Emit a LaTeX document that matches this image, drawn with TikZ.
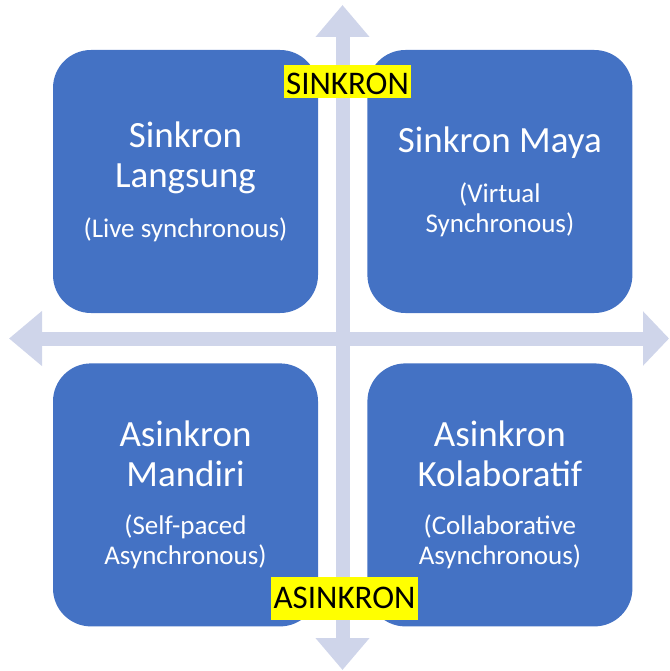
\documentclass[tikz,border=0pt]{standalone}
\usepackage{fontspec}
\setmainfont{Carlito}
\usetikzlibrary{arrows.meta, positioning}
\definecolor{quadblue}{HTML}{4472C4}
\definecolor{axisgray}{HTML}{CFD5EA}
\definecolor{tagyellow}{HTML}{FFFF00}
\newcommand{\subtxt}{\fontsize{27}{30}\selectfont}

\begin{document}
\begin{tikzpicture}[
    x=1pt, y=-1pt,
    quad/.style={rectangle, rounded corners=38pt, fill=quadblue, text=white,
                 minimum width=265pt, minimum height=263pt, text width=250pt,
                 align=flush center, font=\fontsize{37}{40}\selectfont, inner sep=0pt},
    axis/.style={line width=14pt, draw=axisgray,
                 {Triangle[width=52pt,length=32pt]}-{Triangle[width=52pt,length=32pt]}},
    tag/.style={fill=tagyellow, text=black, inner xsep=2.5pt, inner ysep=0pt,
                font=\fontsize{33}{33}\selectfont, anchor=base}
  ]
    \useasboundingbox (0,0) rectangle (669,671);

    % axes
    \coordinate (top) at (342.5,5);
    \coordinate (bot) at (342.5,670);
    \coordinate (lft) at (9,338.5);
    \coordinate (rgt) at (669,338.5);
    \draw[axis] (top) -- (bot);
    \draw[axis, {Triangle[width=53pt,length=33pt]}-{Triangle[width=53pt,length=26pt]}] (lft) -- (rgt);

    % quadrants
    \node[quad] (live) at (185.5,181.5)
      {Sinkron\\Langsung\par\vspace{20pt}{\subtxt (Live synchronous)\par}};
    \node[quad, right=49pt of live] (maya)
      {Sinkron Maya\par\vspace{20pt}{\subtxt (Virtual\\Synchronous)\par}};
    \node[quad, below=50pt of live] (self)
      {Asinkron\\Mandiri\par\vspace{18pt}{\subtxt (Self-paced\\Asynchronous)\par}};
    \node[quad, right=49pt of self] (collab)
      {Asinkron\\Kolaboratif\par\vspace{18pt}{\subtxt (Collaborative\\Asynchronous)\par}};

    % axis labels
    \node[tag, text height=30pt, text depth=3pt] (sync) at (347.5,95) {SINKRON};
    \node[tag, text height=31pt, text depth=12pt] (async) at (344.5,608) {ASINKRON};
  \end{tikzpicture}
\end{document}
